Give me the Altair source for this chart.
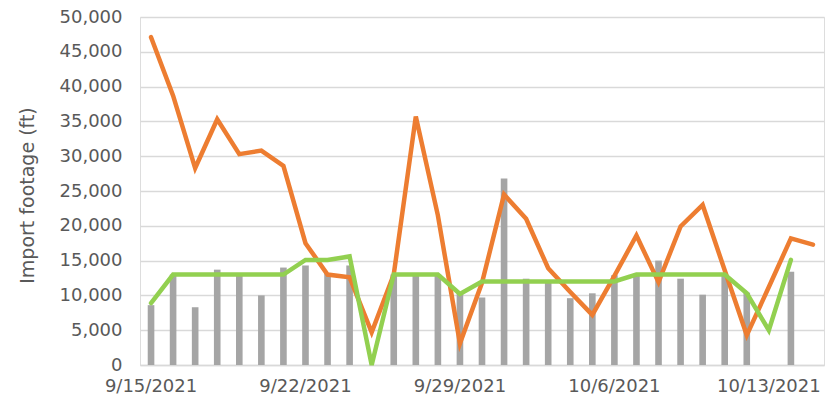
import altair as alt
import pandas as pd

dates = ["9/15/2021", "9/16/2021", "9/17/2021", "9/18/2021", "9/19/2021", "9/20/2021",
         "9/21/2021", "9/22/2021", "9/23/2021", "9/24/2021", "9/25/2021", "9/26/2021",
         "9/27/2021", "9/28/2021", "9/29/2021", "9/30/2021", "10/1/2021", "10/2/2021",
         "10/3/2021", "10/4/2021", "10/5/2021", "10/6/2021", "10/7/2021", "10/8/2021",
         "10/9/2021", "10/10/2021", "10/11/2021", "10/12/2021", "10/13/2021",
         "10/14/2021", "10/15/2021"]

bars = [8600, 13000, 8300, 13700, 13000, 10000, 14000, 14300, 13200, 14300, 0,
        13000, 13000, 13000, 10200, 9700, 26800, 12400, 12200, 9600, 10300, 12900,
        13000, 15000, 12400, 10100, 13000, 10400, 0, 13400, None]

orange = [47100, 38700, 28300, 35300, 30300, 30800, 28600, 17500, 13000, 12600, 4700,
          13000, 35700, 21500, 3100, 11800, 24500, 21000, 13900, 10500, 7200, 12800,
          18600, 11900, 19900, 23000, 13600, 4300, 11200, 18200, 17300]

green = [8900, 13000, 13000, 13000, 13000, 13000, 13000, 15100, 15100, 15600, 0,
         13000, 13000, 13000, 10200, 12000, 12000, 12000, 12000, 12000, 12000, 12000,
         13000, 13000, 13000, 13000, 13000, 10300, 5000, 15100, None]

x_ticks = ["9/15/2021", "9/22/2021", "9/29/2021", "10/6/2021", "10/13/2021"]
y_ticks = [0, 5000, 10000, 15000, 20000, 25000, 30000, 35000, 40000, 45000, 50000]

df = pd.DataFrame({"date": dates, "bars": bars, "orange": orange, "green": green})

FONT = "DejaVu Sans"
LBL = "#595959"
TITLE = "Import footage (ft)"

x_enc = alt.X(
    "date:O", sort=dates, title=None,
    scale=alt.Scale(paddingInner=0, paddingOuter=0),
    axis=alt.Axis(values=x_ticks, labelAngle=0, ticks=False, grid=False,
                  domainColor="#D9D9D9", domainWidth=1.5,
                  labelFont=FONT, labelFontSize=18, labelColor=LBL,
                  labelPadding=12, labelOverlap=False),
)

y_scale = alt.Scale(domain=[0, 50000], nice=False)
y_axis = alt.Axis(values=y_ticks, format=",d", ticks=False, domain=False,
                  grid=True, gridColor="#D9D9D9", gridWidth=1.5,
                  labelFont=FONT, labelFontSize=18, labelColor=LBL,
                  labelPadding=18, labelOverlap=False,
                  titleFont=FONT, titleFontSize=19, titleFontWeight="normal",
                  titleColor=LBL, titleX=-113, titleY=178,
                  titleAngle=270, titleBaseline="middle", titleAlign="center")

base = alt.Chart(df)

bar_layer = base.mark_bar(color="#A5A5A5", width=alt.RelativeBandSize(0.3)).encode(
    x=x_enc,
    y=alt.Y("bars:Q", scale=y_scale, title=TITLE, axis=y_axis),
)

orange_layer = base.mark_line(color="#ED7D31", strokeWidth=4.5, strokeCap="round").encode(
    x=x_enc, y=alt.Y("orange:Q", scale=y_scale, title=TITLE, axis=y_axis),
)

green_layer = base.mark_line(color="#92D050", strokeWidth=4.5, strokeCap="round").encode(
    x=x_enc, y=alt.Y("green:Q", scale=y_scale, title=TITLE, axis=y_axis),
)

chart = alt.layer(bar_layer, orange_layer, green_layer).properties(
    width=684, height=348,
    autosize=alt.AutoSizeParams(type="none"),
    padding={"left": 132, "top": 9, "right": 4, "bottom": 30},
).configure_view(stroke=None).configure(background="white")

chart.save("out.html", embed_options={"renderer": "svg", "actions": False})
